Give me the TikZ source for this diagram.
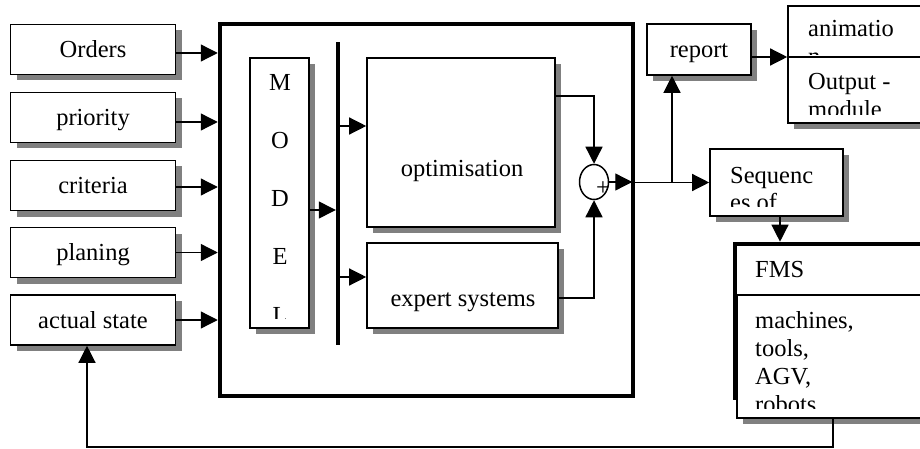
\documentclass[tikz,border=0pt]{standalone}
\usepackage{fontspec}
\setmainfont{Liberation Serif}
\usetikzlibrary{arrows.meta,shapes.geometric,shadows}
\definecolor{shade}{RGB}{128,128,128}
\begin{document}
\begin{tikzpicture}[x=1pt,y=-1pt,
  font=\fontsize{24.5}{28}\selectfont,
  box/.style={draw, line width=1.6pt, fill=white, inner sep=0pt,
    general shadow={fill=shade, shadow xshift=6pt, shadow yshift=-6pt}},
  labelled/.style={box, text height=16.5pt, text depth=0pt},
  conn/.style={line width=1.3pt, -{Triangle[length=17pt,width=17pt]}},
  txt/.style={inner sep=0pt, anchor=base west},
  letter/.style={inner sep=0pt, anchor=base},
]
\clip (0,0) rectangle (920,449);

% input boxes on the left
\node[labelled, minimum width=165pt, minimum height=50pt] (orders)   at (93,49.5)  {Orders};
\node[labelled, minimum width=165pt, minimum height=50pt] (priority) at (93,117.5) {priority};
\node[labelled, minimum width=165pt, minimum height=50pt] (criteria) at (93,185.5) {criteria};
\node[labelled, minimum width=165pt, minimum height=50pt] (planing)  at (93,252.5) {planing};
\node[labelled, minimum width=165pt, minimum height=50pt] (actual)   at (93,320)   {actual state};

% the scheduling system frame
\node[draw, line width=4.5pt, inner sep=0pt, minimum width=413pt, minimum height=372pt] (sys) at (426.5,210) {};

\draw[conn] ([yshift=-3.5pt]orders.east) -- ([yshift=-3.5pt]orders.east -| sys.west);
\draw[conn] ([yshift=-4.5pt]priority.east) -- ([yshift=-4.5pt]priority.east -| sys.west);
\draw[conn] ([yshift=-1.5pt]criteria.east) -- ([yshift=-1.5pt]criteria.east -| sys.west);
\draw[conn] (planing.east) -- (planing.east -| sys.west);
\draw[conn] (actual.east) -- (actual.east -| sys.west);

% model column
\node[box, minimum width=59pt, minimum height=270pt] (model) at (279.5,193) {};
\node[letter] (mM) at (280,91)  {M};
\node[letter] (mO) at (280,149) {O};
\node[letter] (mD) at (280,206) {D};
\node[letter] (mE) at (280,264) {E};
\begin{scope}
  \clip (252,296) rectangle (307,318);
  \node[letter] (mL) at (280,323) {L};
\end{scope}

% distribution bar
\node[fill, inner sep=0pt, minimum width=4pt, minimum height=303pt] (bar) at (338,193.5) {};
\draw[conn] ([yshift=-17pt]model.east) -- ([yshift=-17pt]model.east -| bar.west);

% optimisation and expert systems
\node[box, minimum width=188pt, minimum height=169pt] (opt) at (461,142.5) {};
\node[letter] (optlabel) at (462,177) {optimisation};
\node[box, minimum width=191pt, minimum height=85pt] (expert) at (462.5,285.5) {};
\node[letter] (explabel) at (463,306) {expert systems};

\draw[conn] ([yshift=16.5pt]opt.west -| bar.east) -- ([yshift=16.5pt]opt.west);
\draw[conn] ([yshift=8.5pt]expert.west -| bar.east) -- ([yshift=8.5pt]expert.west);

% summing junction
\node[ellipse, draw, line width=1.5pt, inner sep=0pt, minimum width=29pt, minimum height=35pt] (sum) at (594,182) {};
\node[letter] (plus) at (603,195) {+};

\draw[conn] ([yshift=46.5pt]opt.east) -| (sum.north);
\draw[conn] ([yshift=-12.5pt]expert.east) -| (sum.south);
\draw[conn] (sum.east) -- ([xshift=-3pt]sum.east -| sys.east);

% outputs
\node[box, minimum width=133pt, minimum height=67pt] (seq) at (776.5,182.5) {};
\begin{scope}
  \clip (711,150) rectangle (842,206);
  \node[txt] (seq1) at (730,183) {Sequenc};
  \node[txt] (seq2) at (730,211) {es of};
\end{scope}
\draw[conn] (seq.west -| sys.east) -- (seq.west);

\node[labelled, minimum width=104pt, minimum height=51pt] (report) at (699,49.5) {report};
\coordinate (split) at (672,182.5);
\draw[conn] (split) -- (split |- report.south);

\node[box, minimum width=152pt, minimum height=117pt] (anim) at (864,64.5) {};
\draw[line width=1.6pt] (anim.west |- 0,57) -- (anim.east |- 0,57);
\begin{scope}
  \clip (790,8) rectangle (918,55);
  \node[txt] (anim1) at (808,37) {animatio};
  \node[txt] (anim2) at (808,65) {n};
\end{scope}
\begin{scope}
  \clip (790,58) rectangle (918,115);
  \node[txt] (out1) at (808,90) {Output -};
  \node[txt] (out2) at (808,118) {module};
\end{scope}
\draw[conn] ([yshift=-7.5pt]report.east) -- ([yshift=-7.5pt]report.east -| anim.west);

% flexible manufacturing system
\node[draw, line width=4pt, inner sep=0pt, minimum width=225pt, minimum height=154.3pt] (fms) at (847.5,320.85) {};
\node[box, line width=2pt, minimum width=223.5pt, minimum height=123pt] (fmsb) at (848.25,356.5) {};
\node[txt] (fmstitle) at (755,277) {FMS};
\begin{scope}
  \clip (738,297) rectangle (918,408);
  \node[txt] (res1) at (755,328) {machines,};
  \node[txt] (res2) at (755,356) {tools,};
  \node[txt] (res3) at (755,384) {AGV,};
  \node[txt] (res4) at (755,412) {robots};
\end{scope}
\draw[conn] ([xshift=3.5pt]seq.south) -- ([xshift=3.5pt]seq.south |- fms.north);

% feedback of the actual state
\coordinate (fbl) at (87,447);
\draw[conn] ([xshift=-15.25pt]fmsb.south) |- (fbl) -- (fbl |- actual.south);
\end{tikzpicture}
\end{document}
